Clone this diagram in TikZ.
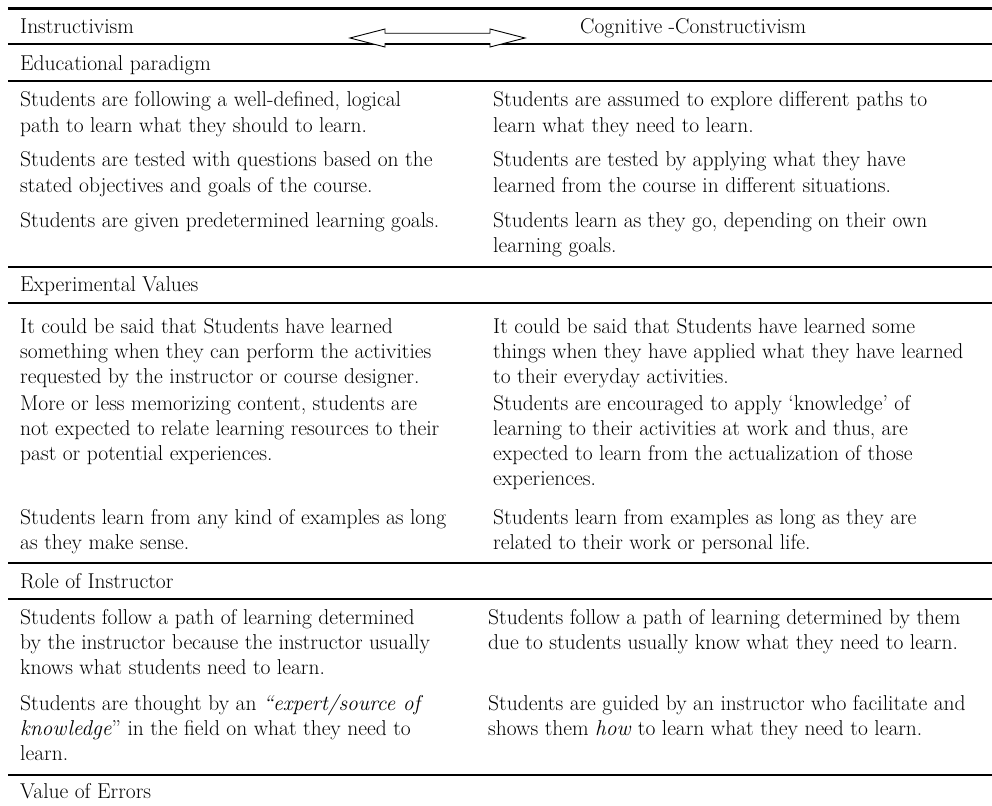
\documentclass[tikz,border=0pt]{standalone}
% a top-aligned stack of left-aligned lines, so that a node's base is its first line
\newcommand\cellrows[1]{\vtop{\let\\\cr\halign{##\hfil\cr#1\crcr}}}
\begin{document}
\begin{tikzpicture}[x=1pt,y=-1pt,
  cell/.style={anchor=base west,inner sep=0pt,
    font=\fontsize{21.5}{25.3}\selectfont},
  rule/.style={line width=2pt},
  toprule/.style={line width=2.8pt}]
\useasboundingbox (0,0) rectangle (992,805);
% column positions
\def\xl{20}\def\xr{493}

% horizontal rules of the table
\draw[toprule] (8,8.5) coordinate (t0) -- (992,8.5) coordinate (t1);
\foreach \y/\n in {44/r1,81/r2,267/r3,303/r4,563/r5,599/r6,775/r7}
  \draw[rule] (8,\y) coordinate (\n a) -- (992,\y) coordinate (\n b);

% header row with the two-way arrow between the paradigms
\node[cell] (instr) at (\xl,34) {\cellrows{Instructivism}};
\node[cell] (cogn) at (580,34) {\cellrows{Cognitive -Constructivism}};
\draw[fill=white,line width=0.9pt,line join=miter]
  (350,38) -- (385,29) -- (385,33.3) -- (490,33.3) -- (490,29) -- (525,38)
  -- (490,47) -- (490,43.5) -- (385,43.5) -- (385,47) -- cycle;

% Educational paradigm
\node[cell] (secA) at (\xl,70.5) {\cellrows{Educational paradigm}};
\node[cell] (a1l) at (\xl,107) {\cellrows{Students are following a well-defined, logical\\path to learn what they should to learn.}};
\node[cell] (a1r) at (\xr,107) {\cellrows{Students are assumed to explore different paths to\\learn what they need to learn.}};
\node[cell] (a2l) at (\xl,167) {\cellrows{Students are tested with questions based on the\\stated objectives and goals of the course.}};
\node[cell] (a2r) at (\xr,167) {\cellrows{Students are tested by applying what they have\\learned from the course in different situations.}};
\node[cell] (a3l) at (\xl,227) {\cellrows{Students are given predetermined learning goals.}};
\node[cell] (a3r) at (\xr,227) {\cellrows{Students learn as they go, depending on their own\\learning goals.}};

% Experimental Values
\node[cell] (secB) at (\xl,291) {\cellrows{Experimental Values}};
\node[cell] (b1l) at (\xl,333) {\cellrows{It could be said that Students have learned\\something when they can perform the activities\\requested by the instructor or course designer.}};
\node[cell] (b1r) at (\xr,333) {\cellrows{It could be said that Students have learned some\\things when they have applied what they have learned\\to their everyday activities.}};
\node[cell] (b2l) at (\xl,410) {\cellrows{More or less memorizing content, students are\\not expected to relate learning resources to their\\past or potential experiences.}};
\node[cell] (b2r) at (\xr,410) {\cellrows{Students are encouraged to apply ‘knowledge’ of\\learning to their activities at work and thus, are\\expected to learn from the actualization of those\\experiences.}};
\node[cell] (b3l) at (\xl,524) {\cellrows{Students learn from any kind of examples as long\\as they make sense.}};
\node[cell] (b3r) at (\xr,524) {\cellrows{Students learn from examples as long as they are\\related to their work or personal life.}};

% Role of Instructor
\node[cell] (secC) at (\xl,588) {\cellrows{Role of Instructor}};
\node[cell] (c1l) at (\xl,624) {\cellrows{Students follow a path of learning determined\\by the instructor because the instructor usually\\knows what students need to learn.}};
\node[cell] (c1r) at (488,624) {\cellrows{Students follow a path of learning determined by them\\due to students usually know what they need to learn.}};
\node[cell] (c2l) at (\xl,710) {\cellrows{Students are thought by an \textit{“expert/source of}\\\textit{knowledge}” in the field on what they need to\\learn.}};
\node[cell] (c2r) at (488,710) {\cellrows{Students are guided by an instructor who facilitate and\\shows them \textit{how} to learn what they need to learn.}};

% Value of Errors
\node[cell] (secD) at (\xl,798) {\cellrows{Value of Errors}};
\end{tikzpicture}
\end{document}
